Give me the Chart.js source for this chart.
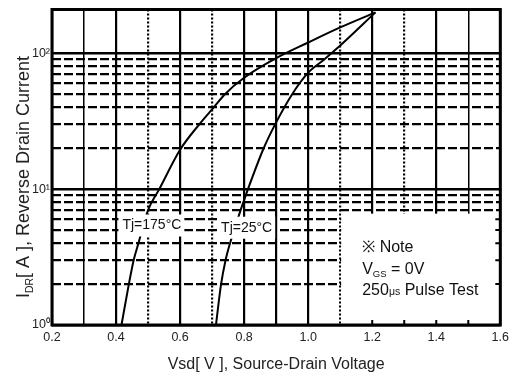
<!DOCTYPE html>
<html>
<head>
<meta charset="utf-8">
<script src="https://cdn.jsdelivr.net/npm/chart.js@4.4.0/dist/chart.umd.min.js"></script>
<style>
  body { margin: 0; background: #fff; }
  canvas { display: block; }
</style>
</head>
<body>
<canvas id="chart" width="514" height="377"></canvas>
<script>
// Values
const vT175 = [0.417, 0.44, 0.455, 0.47, 0.50, 0.535, 0.60, 0.66, 0.705, 0.74, 0.80, 0.90, 1.0, 1.1, 1.21];
const iT175 = [1, 2, 3, 4, 7, 10, 19.5, 30, 40, 50, 66, 92, 120, 155, 200];
const vT25 = [0.712, 0.728, 0.742, 0.756, 0.789, 0.812, 0.861, 0.90, 0.95, 1.0, 1.05, 1.1, 1.21];
const iT25 = [1, 2, 3, 4, 7, 10, 20, 31, 50, 72, 90, 114, 200];

const yTicks = [1, 2, 3, 4, 5, 6, 7, 8, 9, 10, 20, 30, 40, 50, 60, 70, 80, 90, 100];
const yLabels = { 1: '10⁰', 10: '10¹', 100: '10²' };
const xDotted = [5, 7, 11, 13];   // tenths of a volt drawn dotted
const xThin = [3, 15];

const FONT = '"Liberation Sans", Arial, sans-serif';

function toPoints(xs, ys) {
  return xs.map((v, i) => ({ x: v, y: ys[i] }));
}

// draws text in pieces so subscripts can be smaller and lower
function rich(ctx, parts, x, y, align) {
  let w = 0;
  parts.forEach(p => { ctx.font = p[1] + 'px ' + FONT; w += ctx.measureText(p[0]).width; });
  let cx = align === 'center' ? x - w / 2 : x;
  ctx.textAlign = 'left';
  ctx.textBaseline = 'alphabetic';
  parts.forEach(p => {
    ctx.font = p[1] + 'px ' + FONT;
    ctx.fillText(p[0], cx, y + p[2]);
    cx += ctx.measureText(p[0]).width;
  });
  return w;
}

const decor = {
  id: 'decor',
  afterDatasetsDraw(chart) {
    const { ctx, chartArea: a, scales: { x, y } } = chart;
    ctx.save();
    ctx.fillStyle = '#000';

    // curve labels on white patches
    const labels = [
      { text: 'Tj=175°C', v: 0.42, i: 5.4 },
      { text: 'Tj=25°C', v: 0.728, i: 5.2 }
    ];
    labels.forEach(l => {
      const lx = x.getPixelForValue(l.v), ly = y.getPixelForValue(l.i);
      ctx.font = '14px ' + FONT;
      const w = ctx.measureText(l.text).width;
      ctx.fillStyle = '#fff';
      ctx.fillRect(lx - 4, ly - 11, w + 7, 22);
      ctx.fillStyle = '#111';
      ctx.textAlign = 'left';
      ctx.textBaseline = 'middle';
      ctx.fillText(l.text, lx, ly);
    });

    // note box
    const bx = x.getPixelForValue(1.1), by = y.getPixelForValue(6.6);
    ctx.fillStyle = '#fff';
    ctx.fillRect(bx + 1, by, a.right - bx - 1, a.bottom - by);
    ctx.strokeStyle = '#000';
    ctx.lineWidth = 2;
    ctx.beginPath();
    [12, 13, 14, 15].forEach(t => {
      const px = x.getPixelForValue(t / 10);
      ctx.moveTo(px, a.bottom);
      ctx.lineTo(px, a.bottom - 5);
    });
    [2, 3, 4, 5, 6].forEach(v => {
      const py = y.getPixelForValue(v);
      ctx.moveTo(a.right, py);
      ctx.lineTo(a.right - 5, py);
    });
    ctx.stroke();

    ctx.fillStyle = '#111';
    rich(ctx, [['※ Note', 16, 0]], bx + 22, by + 38);
    rich(ctx, [['V', 16, 0], ['GS', 9.5, 3], [' = 0V', 16, 0]], bx + 22, by + 60);
    rich(ctx, [['250', 16, 0], ['μs', 10.5, 0], [' Pulse Test', 16, 0]], bx + 22, by + 81);
    ctx.restore();
  },
  afterDraw(chart) {
    const { ctx, chartArea: a } = chart;
    ctx.save();
    ctx.strokeStyle = '#000';
    ctx.lineWidth = 3;
    ctx.strokeRect(a.left, a.top, a.right - a.left, a.bottom - a.top);

    ctx.fillStyle = '#222';
    rich(ctx, [['Vsd[ V ], Source-Drain Voltage', 16, 0]], (a.left + a.right) / 2, 369, 'center');

    ctx.translate(23, 177);
    ctx.rotate(-Math.PI / 2);
    rich(ctx, [['I', 18, 0], ['DR', 10.5, 4], ['[ A ], Reverse Drain Current', 18, 0]], 0, 6, 'center');
    ctx.restore();
  }
};

new Chart(document.getElementById('chart'), {
  type: 'scatter',
  data: {
    datasets: [
      { label: 'Tj=175°C', data: toPoints(vT175, iT175) },
      { label: 'Tj=25°C', data: toPoints(vT25, iT25) }
    ]
  },
  options: {
    responsive: false,
    animation: false,
    showLine: true,
    layout: { padding: { top: 7, right: 11, left: 0, bottom: 0 } },
    elements: {
      point: { radius: 0 },
      line: { borderColor: '#000', borderWidth: 2, cubicInterpolationMode: 'monotone' }
    },
    plugins: {
      legend: { display: false },
      tooltip: { enabled: false }
    },
    scales: {
      x: {
        type: 'linear',
        min: 0.2,
        max: 1.6,
        afterFit: s => { s.height = 52; },
        ticks: {
          stepSize: 0.1,
          autoSkip: false,
          maxRotation: 0,
          padding: 5,
          color: '#222',
          font: { family: FONT, size: 12.5 },
          callback: v => Math.round(v * 10) % 2 === 0 ? (Math.round(v * 10) / 10).toFixed(1) : ''
        },
        grid: {
          drawTicks: false,
          color: '#000',
          lineWidth: c => {
            const t = Math.round(c.tick.value * 10);
            return xThin.includes(t) ? 1.5 : 2.2;
          }
        },
        border: {
          display: false,
          dash: c => xDotted.includes(Math.round(c.tick.value * 10)) ? [2, 2] : []
        }
      },
      y: {
        type: 'logarithmic',
        min: 1,
        max: 210,
        afterFit: s => { s.width = 52; },
        afterBuildTicks: s => { s.ticks = yTicks.map(v => ({ value: v })); },
        ticks: {
          autoSkip: false,
          padding: 2,
          color: '#222',
          font: { family: FONT, size: 12.5 },
          callback: v => yLabels[v] || ''
        },
        grid: {
          drawTicks: false,
          color: '#000',
          lineWidth: c => yLabels[c.tick.value] ? 2.5 : 2.2
        },
        border: {
          display: false,
          dash: c => yLabels[c.tick.value] ? [] : [9, 3]
        }
      }
    }
  },
  plugins: [decor]
});
</script>
</body>
</html>
